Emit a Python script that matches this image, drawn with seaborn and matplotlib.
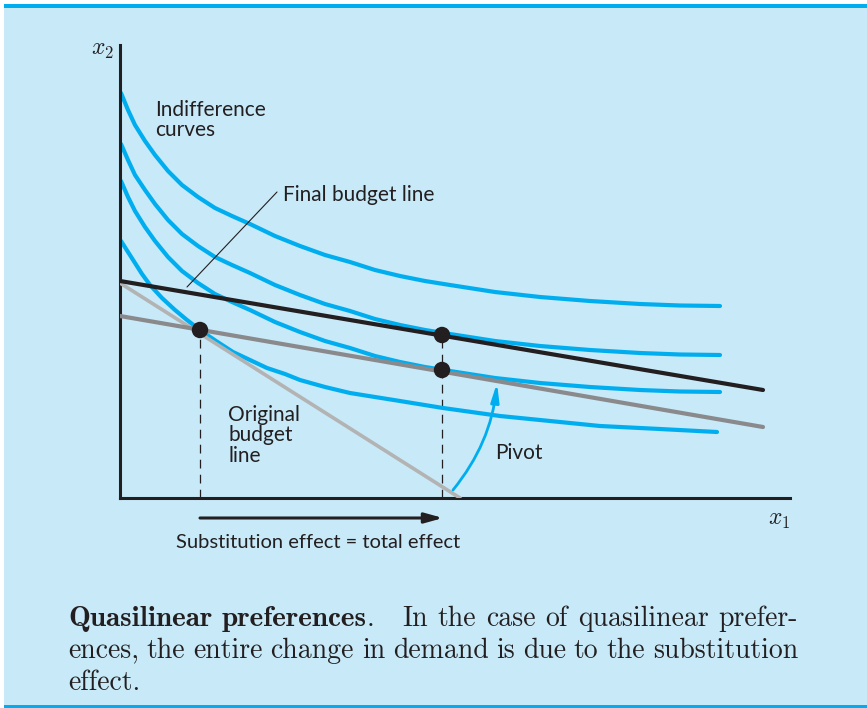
import matplotlib
matplotlib.use('Agg')
import matplotlib.pyplot as plt
from matplotlib.patches import Rectangle
from matplotlib.transforms import IdentityTransform
import seaborn as sns

# indifference curves (quasilinear, so roughly vertical shifts of each other)
ic_x = [1, 8, 15, 25, 35, 48, 62, 78, 95, 112, 130, 155, 180, 205, 230, 255, 280,
        305, 330, 375, 420, 470, 520, 560, 600]
ic1_y = [405, 388, 373, 357, 343, 327, 313, 301, 290, 282, 274, 262, 252, 243, 236, 228,
         222, 217, 213, 206, 201, 197, 194, 192.5, 192]
ic2_y = [354, 338, 323, 308, 294, 278, 264, 252, 241, 233, 225, 213, 203, 194, 187, 179,
         173, 168, 164, 157, 152, 148, 145, 143.5, 143]
ic3_y = [317, 301, 287, 271, 257, 241, 227, 215, 204, 196, 188, 176, 166, 157, 150, 142,
         136, 131, 127, 120, 115, 111, 108, 106.5, 106]
ic4_x = [1, 8, 15, 22, 30, 42, 55, 67, 80, 96, 113, 130, 147, 165, 180, 205, 230, 255,
         280, 323, 380, 430, 480, 540, 597]
ic4_y = [257, 246, 235, 224, 213, 200, 188, 178, 168, 157, 146, 138, 130, 124, 118, 111,
         105, 101, 97, 90, 82, 77, 72, 69, 66]

# budget lines
orig_x = [0, 340]
orig_y = [215, 0]
pivot_x = [0, 643]
pivot_y = [182, 71]
final_x = [0, 643]
final_y = [217, 108]

# optimal choices
opt_x = [80, 322, 322]
opt_y = [168, 163, 128]

CYAN = '#00aeef'
INK = '#231f20'
BG = '#c7e9f8'

sns.set_theme(style='white')
plt.rcParams['font.family'] = ['Lato', 'DejaVu Sans']
plt.rcParams['mathtext.fontset'] = 'cm'

fig = plt.figure(figsize=(8.67, 7.08), dpi=100, facecolor='white')
W, H = 867, 708
fig.patches.append(Rectangle((4 / W, 3 / H), 1, (705 - 8) / H, transform=fig.transFigure,
                             facecolor=BG, edgecolor='none', zorder=-10))
fig.patches.append(Rectangle((4 / W, (708 - 8) / H), 1, 4 / H, transform=fig.transFigure,
                             facecolor=CYAN, edgecolor='none', zorder=-9))
fig.patches.append(Rectangle((4 / W, 0), 1, 3 / H, transform=fig.transFigure,
                             facecolor=CYAN, edgecolor='none', zorder=-9))

ax = fig.add_axes([120 / W, 210 / H, 670 / W, 453 / H])
ax.set_facecolor('none')

for ys in [ic1_y, ic2_y, ic3_y]:
    sns.lineplot(x=ic_x, y=ys, color=CYAN, lw=3, sort=False, estimator=None,
                 legend=False, ax=ax, zorder=2)
sns.lineplot(x=ic4_x, y=ic4_y, color=CYAN, lw=3, sort=False, estimator=None,
             legend=False, ax=ax, zorder=2)

sns.lineplot(x=orig_x, y=orig_y, color='#b3b3b3', lw=2.6, legend=False, ax=ax, zorder=3)
sns.lineplot(x=pivot_x, y=pivot_y, color='#8a8a8c', lw=3, legend=False, ax=ax, zorder=3)
sns.lineplot(x=final_x, y=final_y, color=INK, lw=3, legend=False, ax=ax, zorder=4)

# dashed drop lines
ax.plot([opt_x[0], opt_x[0]], [0, opt_y[0]], color=INK, lw=0.9, ls=(0, (7, 5)), zorder=1)
ax.plot([opt_x[1], opt_x[1]], [0, opt_y[1]], color=INK, lw=0.9, ls=(0, (7, 5)), zorder=1)

sns.scatterplot(x=opt_x, y=opt_y, color=INK, s=140, edgecolor='none', legend=False,
                ax=ax, zorder=5)

ax.set_xlim(0, 670)
ax.set_ylim(0, 453)
ax.set_xticks([])
ax.set_yticks([])
ax.set_xlabel('')
ax.set_ylabel('')
for side in ['top', 'right']:
    ax.spines[side].set_visible(False)
for side in ['left', 'bottom']:
    ax.spines[side].set_color(INK)
    ax.spines[side].set_linewidth(2.2)

fs = 15
ax.text(35, 398, 'Indifference\ncurves', ha='left', va='top', fontsize=fs, color=INK,
        linespacing=1.0)
ax.text(163, 303, 'Final budget line', ha='left', va='center', fontsize=fs, color=INK)
ax.plot([67, 157], [211, 306], color=INK, lw=0.8, zorder=3)
ax.text(108, 93, 'Original\nbudget\nline', ha='left', va='top', fontsize=fs, color=INK,
        linespacing=1.02)
ax.text(375, 45, 'Pivot', ha='left', va='center', fontsize=fs, color=INK)
ax.text(198, -45, 'Substitution effect = total effect', ha='center', va='center',
        fontsize=14.5, color=INK, clip_on=False)
ax.text(-6, 448, r'$x_2$', ha='right', va='center', fontsize=17, color=INK)
ax.text(670, -23, r'$x_1$', ha='right', va='center', fontsize=17, color=INK)

ax.annotate('', xy=(323, -20), xytext=(80, -20), annotation_clip=False,
            arrowprops=dict(arrowstyle='-|>,head_length=0.9,head_width=0.25', color=INK,
                            lw=2.2, shrinkA=0, shrinkB=0))
ax.annotate('', xy=(377, 115), xytext=(333, 8),
            arrowprops=dict(arrowstyle='-|>,head_length=0.9,head_width=0.2', color=CYAN,
                            lw=2, connectionstyle='arc3,rad=0.15', shrinkA=0, shrinkB=0))

# caption, justified word by word
renderer = fig.canvas.get_renderer()


def place_line(tokens, y, x0, x1=None):
    items = []
    for word, fam, gap in tokens:
        size = 21 if fam == 'cmb10' else 20
        t = fig.text(0, y, word, family=fam, fontsize=size, color=INK,
                     transform=IdentityTransform(), va='baseline', ha='left')
        items.append((t, t.get_window_extent(renderer).width, gap))
    total = sum(w for _, w, _ in items)
    weights = sum(g for _, _, g in items[:-1])
    unit = (x1 - x0 - total) / weights if x1 is not None and weights else 10
    x = x0
    for t, w, g in items:
        t.set_x(x)
        x += w + g * unit


line1 = [('Quasilinear', 'cmb10', 1), ('preferences', 'cmb10', 0), ('.', 'cmr10', 2.8),
         ('In', 'cmr10', 1), ('the', 'cmr10', 1), ('case', 'cmr10', 1), ('of', 'cmr10', 1),
         ('quasilinear', 'cmr10', 1), ('prefer-', 'cmr10', 0)]
line2 = [(w, 'cmr10', 1) for w in 'ences, the entire change in demand is due to the substitution'.split()]
line3 = [('effect.', 'cmr10', 0)]
place_line(line1, 82, 68, 798)
place_line(line2, 50, 68, 798)
place_line(line3, 18, 68)

fig.savefig('out.png', dpi=100, facecolor='white')
